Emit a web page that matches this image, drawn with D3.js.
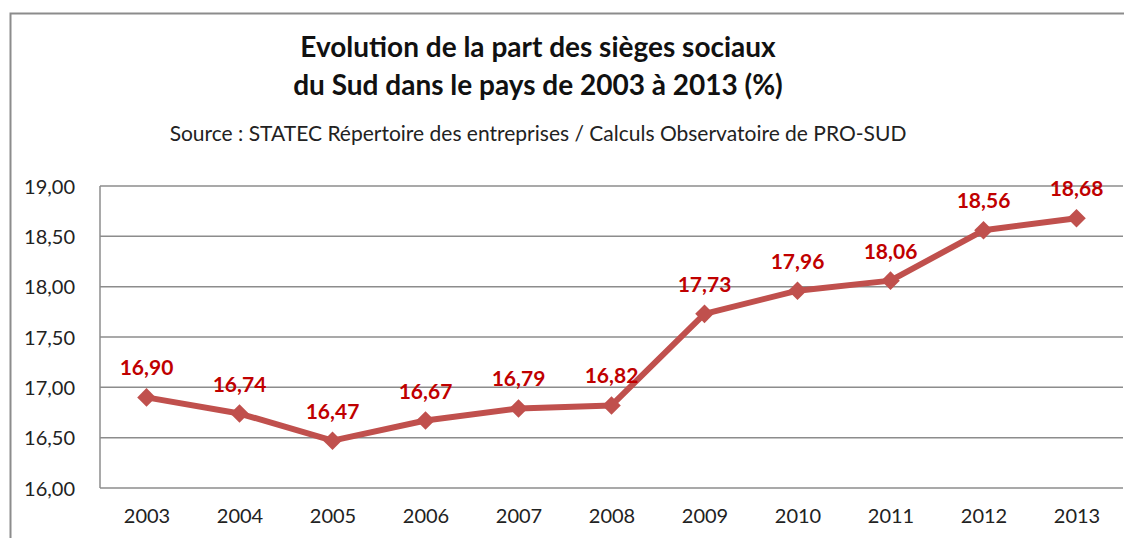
<!DOCTYPE html>
<html lang="fr">
<head>
<meta charset="UTF-8">
<title>Sièges sociaux du Sud</title>
<style>
    body { margin: 0; background: #fff; }
    svg { display: block; font-family: Lato, "Open Sans", sans-serif; }
    .grid line { stroke: #8c8c8c; stroke-width: 1.5px; }
    .axis text { fill: #222; font-size: 20px; }
    .axis path, .axis line { display: none; }
    .val { fill: #c00000; font-size: 21px; font-weight: bold; text-anchor: middle; }
</style>
</head>
<body>
<script src="https://d3js.org/d3.v7.min.js"></script>
<script>
    var years = ["2003", "2004", "2005", "2006", "2007", "2008", "2009", "2010", "2011", "2012", "2013"];
    var shares = [16.90, 16.74, 16.47, 16.67, 16.79, 16.82, 17.73, 17.96, 18.06, 18.56, 18.68];
    var yTicks = [16, 16.5, 17, 17.5, 18, 18.5, 19];
    var titleLines = ["Evolution de la part des sièges sociaux", "du Sud dans le pays de 2003 à 2013 (%)"];
    var sourceText = "Source : STATEC Répertoire des entreprises / Calculs Observatoire de PRO-SUD";

    var W = 1124, H = 538;
    var plot = { left: 100, right: 1123, top: 186, bottom: 488 };

    var fmt = function(v) { return d3.format(".2f")(v).replace(".", ","); };

    var svg = d3.select("body").append("svg")
        .attr("width", W)
        .attr("height", H);

    // outer chart frame
    svg.append("rect")
        .attr("x", 10.5).attr("y", 13.5)
        .attr("width", W).attr("height", H)
        .attr("fill", "none")
        .attr("stroke", "#8c8c8c")
        .attr("stroke-width", 2);

    var x = d3.scalePoint()
        .domain(years)
        .range([plot.left, plot.right])
        .padding(0.5);

    var y = d3.scaleLinear()
        .domain([16, 19])
        .range([plot.bottom, plot.top]);

    // titles
    svg.selectAll(".title")
        .data(titleLines)
        .enter().append("text")
        .attr("class", "title")
        .attr("x", 538)
        .attr("y", function(d, i) { return 57 + i * 38; })
        .attr("text-anchor", "middle")
        .attr("font-size", 28)
        .attr("font-weight", "bold")
        .attr("fill", "#111")
        .text(function(d) { return d; });

    svg.append("text")
        .attr("x", 538)
        .attr("y", 141)
        .attr("text-anchor", "middle")
        .attr("font-size", 21)
        .attr("fill", "#222")
        .text(sourceText);

    // horizontal gridlines
    svg.append("g")
        .attr("class", "grid")
        .selectAll("line")
        .data(yTicks)
        .enter().append("line")
        .attr("x1", plot.left).attr("x2", plot.right)
        .attr("y1", function(d) { return y(d); })
        .attr("y2", function(d) { return y(d); });

    svg.append("line")
        .attr("x1", plot.left).attr("x2", plot.left)
        .attr("y1", plot.top).attr("y2", plot.bottom)
        .attr("stroke", "#8c8c8c")
        .attr("stroke-width", 1.5);

    svg.append("g")
        .attr("class", "axis")
        .attr("transform", "translate(" + (plot.left - 22) + ",0)")
        .call(d3.axisLeft(y).tickValues(yTicks).tickFormat(fmt).tickSize(0))
        .attr("font-family", null)
        .attr("font-size", null)
        .selectAll("text").attr("dy", "0.35em");

    svg.append("g")
        .attr("class", "axis")
        .attr("transform", "translate(0," + (plot.bottom + 18) + ")")
        .call(d3.axisBottom(x).tickSize(0))
        .attr("font-family", null)
        .attr("font-size", null);

    var pts = years.map(function(yr, i) { return { year: yr, v: shares[i] }; });

    var line = d3.line()
        .x(function(d) { return x(d.year); })
        .y(function(d) { return y(d.v); });

    svg.append("path")
        .datum(pts)
        .attr("d", line)
        .attr("fill", "none")
        .attr("stroke", "#c0504d")
        .attr("stroke-width", 6)
        .attr("stroke-linejoin", "round");

    svg.selectAll(".dot")
        .data(pts)
        .enter().append("path")
        .attr("class", "dot")
        .attr("d", d3.symbol().type(d3.symbolDiamond2).size(220))
        .attr("transform", function(d) { return "translate(" + x(d.year) + "," + y(d.v) + ")"; })
        .attr("fill", "#c0504d");

    svg.selectAll(".val")
        .data(pts)
        .enter().append("text")
        .attr("class", "val")
        .attr("x", function(d) { return x(d.year); })
        .attr("y", function(d) { return y(d.v) - 22; })
        .text(function(d) { return fmt(d.v); });
</script>
</body>
</html>
